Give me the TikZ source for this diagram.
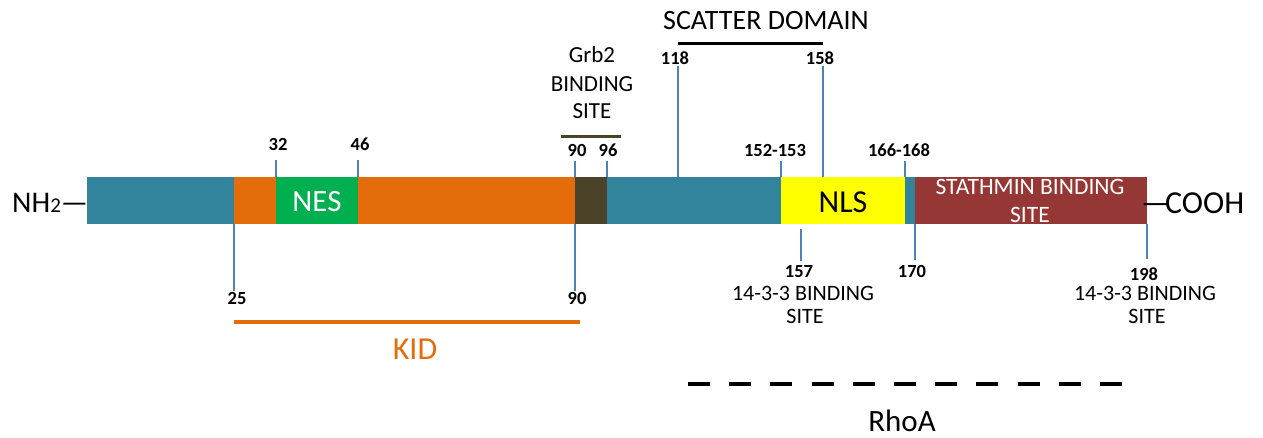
\documentclass[tikz,border=0pt]{standalone}
\usepackage{fontspec}
\setmainfont{Carlito}
\definecolor{tealc}{HTML}{31849B}
\definecolor{orangec}{HTML}{E46C0A}
\definecolor{greenc}{HTML}{00B050}
\definecolor{brownc}{HTML}{4A432A}
\definecolor{yellowc}{HTML}{FFFF00}
\definecolor{maroonc}{HTML}{953735}
\definecolor{tickblue}{HTML}{4F81BD}
\begin{document}
\begin{tikzpicture}[x=1pt,y=-1pt,
  num/.style={font=\fontsize{18.5}{20}\selectfont\bfseries, anchor=base, inner sep=0pt},
  lbl/.style={font=\fontsize{23}{25}\selectfont, anchor=base, inner sep=0pt},
  big/.style={font=\fontsize{32}{34}\selectfont, anchor=base, inner sep=0pt},
  tickline/.style={draw=tickblue, line width=1.3pt}]
\useasboundingbox[fill=white] (0,0) rectangle (1263,438);

% bar segments
\fill[tealc]    (87,177)  rectangle (234,224);
\fill[orangec]  (234,177) rectangle (276,224);
\fill[greenc]   (276,177) rectangle (358,224);
\fill[orangec]  (358,177) rectangle (575,224);
\fill[brownc]   (575,177) rectangle (607,224);
\fill[tealc]    (607,177) rectangle (781,224);
\fill[yellowc]  (781,177) rectangle (905,224);
\fill[tealc]    (905,177) rectangle (915,224);
\fill[maroonc]  (915,177) rectangle (1147,224);

% texts inside bar
\node[big, text=white, font=\fontsize{31}{33}\selectfont] (nes) at (317,212) {NES};
\node[big] (nls) at (843,213) {NLS};
\node[lbl, text=white, font=\fontsize{23.5}{25}\selectfont] (stath1) at (1030,195) {STATHMIN BINDING};
\node[lbl, text=white, font=\fontsize{23.5}{25}\selectfont] (stath2) at (1030,223) {SITE};

% ends
\node[big, anchor=base west, font=\fontsize{30}{32}\selectfont] (nh2) at (12,213) {NH{\fontsize{21}{23}\selectfont 2}—};
\node[big, anchor=base west] (cooh) at (1141,214) {—\kern-5pt COOH};

% top ticks
\coordinate (t32a) at (276,160); \coordinate (t32b) at (276,177);
\coordinate (t46a) at (358,160); \coordinate (t46b) at (358,177);
\coordinate (t90a) at (575,161); \coordinate (t90b) at (575,177);
\coordinate (t96a) at (607,161); \coordinate (t96b) at (607,177);
\coordinate (t118a) at (678,66); \coordinate (t118b) at (678,177);
\coordinate (t158a) at (823,66); \coordinate (t158b) at (823,177);
\coordinate (t152a) at (781,161); \coordinate (t152b) at (781,177);
\coordinate (t166a) at (905,161); \coordinate (t166b) at (905,177);
\draw[tickline] (t32a) -- (t32b);
\draw[tickline] (t46a) -- (t46b);
\draw[tickline] (t90a) -- (t90b);
\draw[tickline] (t96a) -- (t96b);
\draw[tickline] (t118a) -- (t118b);
\draw[tickline] (t158a) -- (t158b);
\draw[tickline] (t152a) -- (t152b);
\draw[tickline] (t166a) -- (t166b);

% bottom ticks
\coordinate (b25a) at (234,224); \coordinate (b25b) at (234,291);
\coordinate (b90a) at (575,224); \coordinate (b90b) at (575,291);
\coordinate (b157a) at (801,229); \coordinate (b157b) at (801,261);
\coordinate (b170a) at (915,224); \coordinate (b170b) at (915,260);
\coordinate (b198a) at (1147,224); \coordinate (b198b) at (1147,259);
\draw[tickline] (b25a) -- (b25b);
\draw[tickline] (b90a) -- (b90b);
\draw[tickline] (b157a) -- (b157b);
\draw[tickline] (b170a) -- (b170b);
\draw[tickline] (b198a) -- (b198b);

% number labels
\node[num] (n32) at (278,150.5) {32};
\node[num] (n46) at (360,150.5) {46};
\node[num] (n90t) at (577,157) {90};
\node[num] (n96) at (608,157) {96};
\node[num] (n118) at (675,64.5) {118};
\node[num] (n158) at (820,64.5) {158};
\node[num] (n152) at (775,157) {152-153};
\node[num] (n166) at (899,157) {166-168};
\node[num] (n25) at (237,304) {25};
\node[num] (n90b) at (577,304) {90};
\node[num] (n157) at (799,277) {157};
\node[num] (n170) at (912,277) {170};
\node[num] (n198) at (1144,280.5) {198};

% Grb2
\node[lbl] (grb1) at (592,63) {Grb2};
\node[lbl] (grb2) at (592,92) {BINDING};
\node[lbl] (grb3) at (592,119) {SITE};
\coordinate (grbl) at (561,137); \coordinate (grbr) at (621,137);
\draw[brownc, line width=3pt] (grbl) -- (grbr);

% scatter domain
\node[lbl, font=\fontsize{28}{30}\selectfont] (scat) at (766,30) {SCATTER DOMAIN};
\coordinate (scl) at (678,44); \coordinate (scr) at (823,44);
\draw[black, line width=3pt] (scl) -- (scr);

% 14-3-3 binding sites
\node[lbl, font=\fontsize{22}{24}\selectfont] (b1a) at (803,301) {14-3-3 BINDING};
\node[lbl, font=\fontsize{22}{24}\selectfont] (b1b) at (805,323.5) {SITE};
\node[lbl, font=\fontsize{22}{24}\selectfont] (b2a) at (1145,301) {14-3-3 BINDING};
\node[lbl, font=\fontsize{22}{24}\selectfont] (b2b) at (1147,323.5) {SITE};

% KID
\coordinate (kidl) at (234,322); \coordinate (kidr) at (580,322);
\draw[orangec, line width=3.5pt] (kidl) -- (kidr);
\node[big, text=orangec] (kid) at (415,359) {KID};

% RhoA
\coordinate (rhol) at (688,384); \coordinate (rhor) at (1122,384);
\draw[black, line width=3.5pt, dash pattern=on 22pt off 19.2pt] (rhol) -- (rhor);
\node[big, font=\fontsize{31}{33}\selectfont] (rhoa) at (902,431.5) {RhoA};
\end{tikzpicture}
\end{document}
